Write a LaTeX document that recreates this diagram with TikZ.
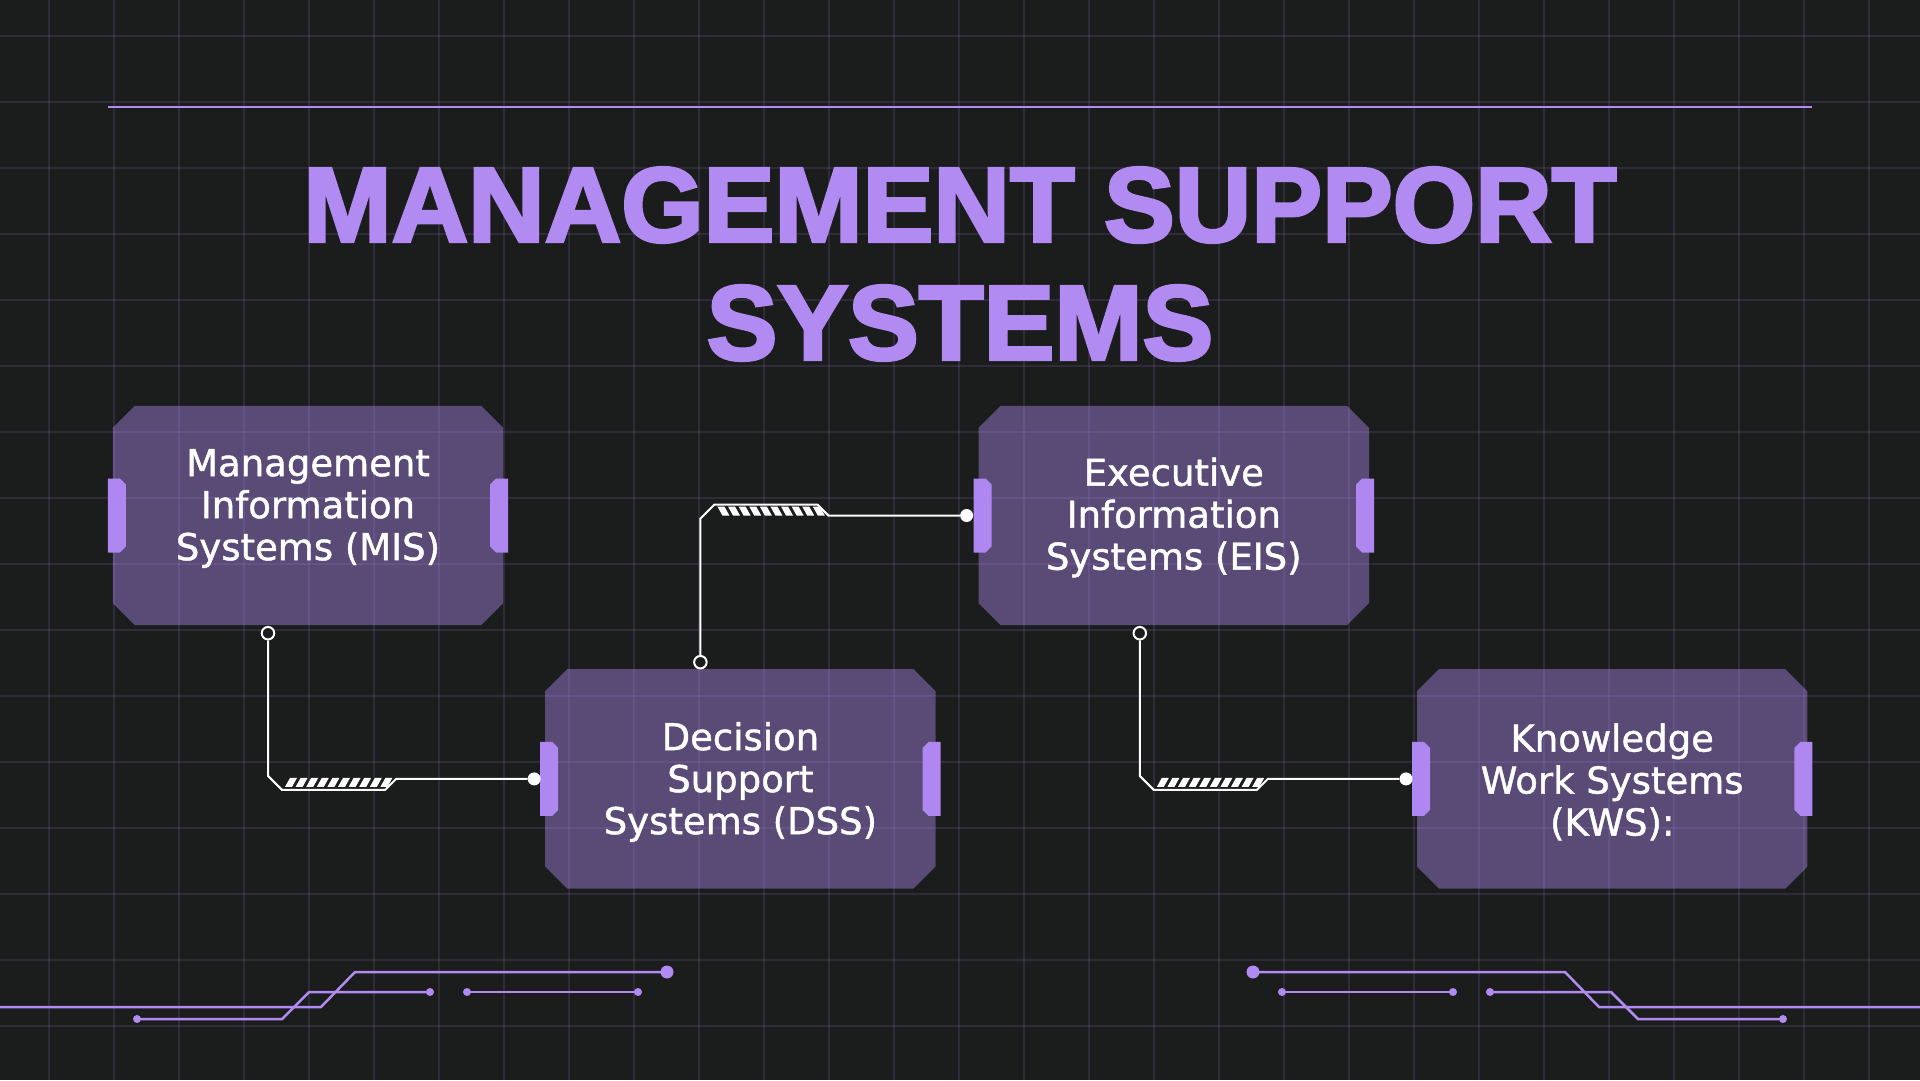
\documentclass[tikz,border=0pt]{standalone}
\usepackage{fontspec}
\setmainfont{DejaVu Sans}
\newfontfamily\headfont{Liberation Sans}[FakeBold=3]
\newfontfamily\cardfont{DejaVu Sans}[FakeBold=1.2]
\usetikzlibrary{positioning,calc}

\definecolor{bgcol}{HTML}{1B1C1C}
\definecolor{lav}{HTML}{B28BF2}
\definecolor{tabcol}{HTML}{AE87F0}
\definecolor{cardcol}{HTML}{594A76}
\definecolor{gridcol}{HTML}{B08CF0}

\pgfdeclarelayer{bg}
\pgfdeclarelayer{gridlayer}
\pgfsetlayers{bg,gridlayer,main}

% card outline with cut corners
\newcommand\cardshape[1]{%
  \fill[cardcol] ([xshift=22pt]#1.north west) -- ([xshift=-22pt]#1.north east)
    -- ([yshift=-22pt]#1.north east) -- ([yshift=22pt]#1.south east)
    -- ([xshift=-22pt]#1.south east) -- ([xshift=22pt]#1.south west)
    -- ([yshift=22pt]#1.south west) -- ([yshift=-22pt]#1.north west) -- cycle;}
% the two lavender tabs on the sides of a card
\newcommand\sidetabs[1]{%
  \fill[tabcol] ([xshift=-5pt,yshift=37pt]#1.west) -- ++(12,0) -- ++(6,6) -- ++(0,62) -- ++(-6,6) -- ++(-12,0) -- cycle;
  \fill[tabcol] ([xshift=5pt,yshift=37pt]#1.east) -- ++(-12,0) -- ++(-6,6) -- ++(0,62) -- ++(6,6) -- ++(12,0) -- cycle;}

\begin{document}
\begin{tikzpicture}[x=1pt, y=-1pt,
  box/.style={rectangle, minimum width=390pt, minimum height=219pt, inner sep=0pt},
  boxtxt/.style={align=center, text=white, inner sep=0pt, font=\cardfont\fontsize{37}{42}\selectfont},
  title/.style={align=center, text=lav, inner sep=0pt, font=\headfont\bfseries\fontsize{106}{118}\selectfont},
  wire/.style={draw=white, line width=2pt},
  port/.style={circle, draw=white, line width=2pt, fill=bgcol, minimum size=12.5pt, inner sep=0pt},
  pin/.style={circle, fill=white, minimum size=13pt, inner sep=0pt},
  hatch/.style={fill=white},
  trace/.style={draw=lav, line width=2.5pt},
  tdot/.style={fill=lav}]

\useasboundingbox (0,0) rectangle (1920,1080);
\begin{pgfonlayer}{bg}
\fill[bgcol] (0,0) rectangle (1920,1080);
\end{pgfonlayer}

% grid
\begin{pgfonlayer}{gridlayer}
\foreach \gx in {0,...,28}
  \draw[gridcol, opacity=0.14, line width=1.3pt] ({49+\gx*65},0) -- ({49+\gx*65},1080);
\foreach \gy in {0,...,15}
  \draw[gridcol, opacity=0.14, line width=1.3pt] (0,{36+\gy*66}) -- (1920,{36+\gy*66});
\end{pgfonlayer}

% heading
\draw[lav, line width=2pt] (108,107) -- (1812,107);
\node[title] (ttl) at (960,264) {MANAGEMENT SUPPORT\\SYSTEMS};

% cards
\node[box] (mis) at (308,515.5) {};
\node[box, below right=44pt and 42pt of mis] (dss) {};
\node[box, above right=44pt and 43pt of dss] (eis) {};
\node[box, below right=44pt and 48pt of eis] (kws) {};
\begin{pgfonlayer}{bg}
\cardshape{mis} \cardshape{dss} \cardshape{eis} \cardshape{kws}
\end{pgfonlayer}
\sidetabs{mis} \sidetabs{dss} \sidetabs{eis} \sidetabs{kws}

\node[boxtxt] (mistxt) at ([yshift=7pt]mis.center) {Management\\Information\\Systems (MIS)};
\node[boxtxt] (dsstxt) at ([yshift=-3pt]dss.center) {Decision\\Support\\Systems (DSS)};
\node[boxtxt] (eistxt) at ([yshift=-2pt]eis.center) {Executive\\Information\\Systems (EIS)};
\node[boxtxt] (kwstxt) at ([yshift=-3pt]kws.center) {Knowledge\\Work Systems\\(KWS):};

% connectors
\node[port] (misport) at ([xshift=-40pt,yshift=-8pt]mis.south) {};
\node[port] (dssport) at ([xshift=-40pt,yshift=7pt]dss.north) {};
\node[port] (eisport) at ([xshift=-34pt,yshift=-8pt]eis.south) {};
\node[pin] (dssin) at ([xshift=-11pt]dss.west) {};
\node[pin] (eisin) at ([xshift=-12pt]eis.west) {};
\node[pin] (kwsin) at ([xshift=-11pt]kws.west) {};

\draw[wire] (misport) -- ($(misport |- dssin)+(0,-3)$) -- ++(14,14) coordinate (h1) -- ++(103,0) -- ++(11,-11) -- (dssin);
\draw[wire] (dssport) -- ($(dssport |- eisin)+(0,3)$) -- ++(14,-14) coordinate (h2) -- ++(103,0) -- ++(11,11) -- (eisin);
\draw[wire] (eisport) -- ($(eisport |- kwsin)+(0,-3)$) -- ++(14,14) coordinate (h3) -- ++(103,0) -- ++(11,-11) -- (kwsin);
\foreach \k in {0,...,9} {
  \fill[hatch] ($(h1)+({3+\k*10.6},-3)$) -- ++(7,0) -- ++(5,-9) -- ++(-7,0) -- cycle;
  \fill[hatch] ($(h2)+({3+\k*10.6},2)$) -- ++(7,0) -- ++(5,9) -- ++(-7,0) -- cycle;
  \fill[hatch] ($(h3)+({3+\k*10.6},-3)$) -- ++(7,0) -- ++(5,-9) -- ++(-7,0) -- cycle;
}

% circuit traces at the bottom
\foreach \sx/\ox in {1/0,-1/1920} {
\begin{scope}[xshift=\ox, xscale=\sx]
\draw[trace] (0,1007) -- (321,1007) -- (355,972) -- (667,972);
\fill[tdot] (667,972) circle (6.5);
\draw[trace] (137,1019) -- (282,1019) -- (309,992) -- (430,992);
\fill[tdot] (137,1019) circle (4) (430,992) circle (4);
\draw[trace] (467,992) -- (638,992);
\fill[tdot] (467,992) circle (4) (638,992) circle (4);
\end{scope}}
\end{tikzpicture}
\end{document}
